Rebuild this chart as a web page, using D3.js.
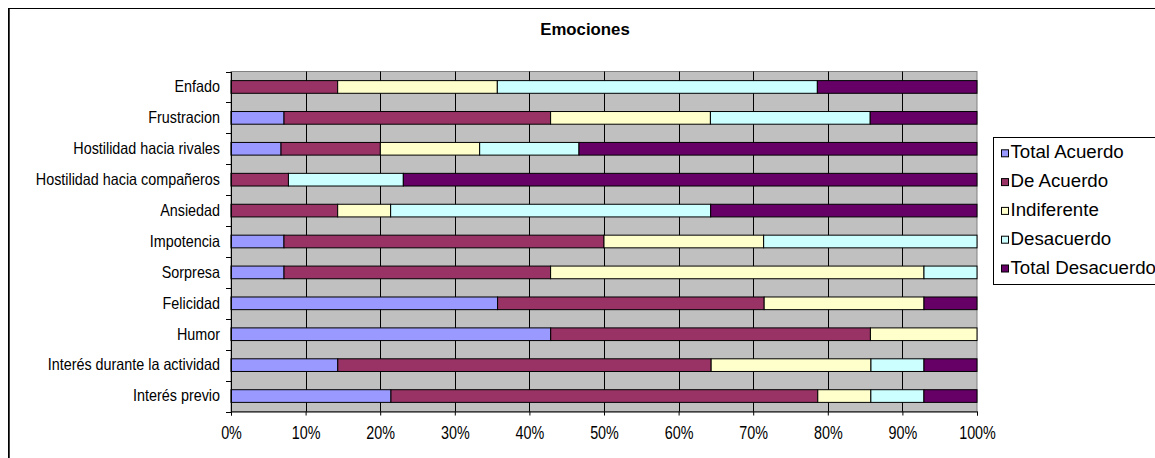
<!DOCTYPE html>
<html>
<head>
<meta charset="utf-8">
<script src="https://cdn.jsdelivr.net/npm/d3@7"></script>
<style>
  html, body { margin: 0; padding: 0; background: #fff; overflow: hidden; }
  text { font-family: Arial, "Liberation Sans", sans-serif; }
</style>
</head>
<body>
<svg id="chart" width="1155" height="458"></svg>
<script>
// ---- data ----
const categories = [
  "Enfado", "Frustracion", "Hostilidad hacia rivales", "Hostilidad hacia compañeros",
  "Ansiedad", "Impotencia", "Sorpresa", "Felicidad", "Humor",
  "Interés durante la actividad", "Interés previo"
];
const seriesNames = ["Total Acuerdo", "De Acuerdo", "Indiferente", "Desacuerdo", "Total Desacuerdo"];
const totalAcuerdo    = [0,    7.1,  6.7,  0,    0,    7.1,  7.1,  35.7, 42.9, 14.3, 21.4];
const deAcuerdo       = [14.3, 35.7, 13.3, 7.7,  14.3, 42.9, 35.7, 35.7, 42.9, 50.0, 57.1];
const indiferente     = [21.4, 21.4, 13.3, 0,    7.1,  21.4, 50.0, 21.4, 14.3, 21.4, 7.1];
const desacuerdo      = [42.9, 21.4, 13.3, 15.4, 42.9, 28.6, 7.1,  0,    0,    7.1,  7.1];
const totalDesacuerdo = [21.4, 14.3, 53.3, 76.9, 35.7, 0,    0,    7.1,  0,    7.1,  7.1];
const tickValues = [0, 0.1, 0.2, 0.3, 0.4, 0.5, 0.6, 0.7, 0.8, 0.9, 1.0];
const seriesColors = ["#9999FF", "#993366", "#FFFFCC", "#CCFFFF", "#660066"];
const title = "Emociones";

// ---- build table ----
const seriesValues = [totalAcuerdo, deAcuerdo, indiferente, desacuerdo, totalDesacuerdo];
const rows = categories.map((c, i) => {
  const r = { cat: c };
  seriesNames.forEach((s, j) => r[s] = seriesValues[j][i]);
  return r;
});
const stacked = d3.stack().keys(seriesNames).offset(d3.stackOffsetExpand)(rows);

const svg = d3.select("#chart");
const plot = { left: 231, right: 977, top: 71.5, bottom: 411.5 };

// outer frame
svg.append("rect").attr("x", 8.5).attr("y", 8.5).attr("width", 1300).attr("height", 600)
  .attr("fill", "#fff").attr("stroke", "#000").attr("stroke-width", 1);
svg.append("line").attr("x1", 9.5).attr("x2", 9.5).attr("y1", 9).attr("y2", 458)
  .attr("stroke", "#444").attr("stroke-width", 1);

// title
svg.append("text").attr("x", 585).attr("y", 35).attr("text-anchor", "middle")
  .attr("font-weight", "bold").attr("font-size", "16.8px").text(title);

const x = d3.scaleLinear().domain([0, 1]).range([plot.left, plot.right]);
const y = d3.scaleBand().domain(categories).range([plot.top, plot.bottom])
  .paddingInner(0.59).paddingOuter(0.295);

// plot area
svg.append("rect").attr("x", plot.left).attr("y", plot.top)
  .attr("width", plot.right - plot.left).attr("height", plot.bottom - plot.top)
  .attr("fill", "#C0C0C0").attr("stroke", "#808080").attr("stroke-width", 1);

// vertical grid
svg.append("g").selectAll("line").data(tickValues.slice(1, -1)).join("line")
  .attr("x1", d => Math.round(x(d)) + 0.5).attr("x2", d => Math.round(x(d)) + 0.5)
  .attr("y1", plot.top).attr("y2", plot.bottom)
  .attr("stroke", "#000").attr("stroke-width", 1);

// bars
svg.append("g").selectAll("g").data(stacked).join("g")
  .attr("fill", (d, i) => seriesColors[i])
  .selectAll("rect").data(d => d.filter(p => p[1] - p[0] > 0)).join("rect")
  .attr("x", d => x(d[0]))
  .attr("y", d => y(d.data.cat))
  .attr("width", d => x(d[1]) - x(d[0]))
  .attr("height", y.bandwidth())
  .attr("stroke", "#000").attr("stroke-width", 1);

// x axis
const xAxis = d3.axisBottom(x).tickValues(tickValues).tickFormat(d3.format(".0%")).tickSize(4);
const gx = svg.append("g").attr("transform", `translate(0,${plot.bottom})`).call(xAxis);
gx.select(".domain").attr("stroke", "#000");
const sxX = 0.82;
gx.selectAll("text")
  .attr("font-size", "17.5px").attr("font-family", "Arial, 'Liberation Sans', sans-serif").attr("fill", "#000")
  .attr("y", 28).attr("dy", 0).attr("transform", `scale(${sxX},1)`);

// y axis: labels with ticks at category boundaries
const yAxis = d3.axisLeft(y).tickSize(0).tickPadding(11);
const gy = svg.append("g").attr("transform", `translate(${plot.left},0)`).call(yAxis);
gy.select(".domain").attr("stroke", "#000");
const sxY = 0.87;
gy.selectAll("text")
  .attr("font-size", "16.5px").attr("font-family", "Arial, 'Liberation Sans', sans-serif").attr("fill", "#000")
  .attr("x", -11 / sxY).attr("transform", `scale(${sxY},1)`);
const boundaries = d3.range(categories.length + 1).map(i => plot.top + i * (plot.bottom - plot.top) / categories.length);
svg.append("g").selectAll("line").data(boundaries).join("line")
  .attr("x1", plot.left - 5).attr("x2", plot.left)
  .attr("y1", d => Math.round(d) + 0.5).attr("y2", d => Math.round(d) + 0.5)
  .attr("stroke", "#000");

// legend
const lg = svg.append("g");
lg.append("rect").attr("x", 993.5).attr("y", 137.5).attr("width", 200).attr("height", 147)
  .attr("fill", "#fff").attr("stroke", "#000");
const items = lg.selectAll("g.item").data(seriesNames).join("g").attr("class", "item")
  .attr("transform", (d, i) => `translate(0,${158.3 + i * 28.8})`);
items.append("rect").attr("x", 1001.5).attr("y", -8.5).attr("width", 7).attr("height", 7)
  .attr("fill", (d, i) => seriesColors[i]).attr("stroke", "#000");
items.append("text").attr("x", 1010.5).attr("y", 0)
  .attr("font-size", "18.7px").text(d => d);
</script>
</body>
</html>
